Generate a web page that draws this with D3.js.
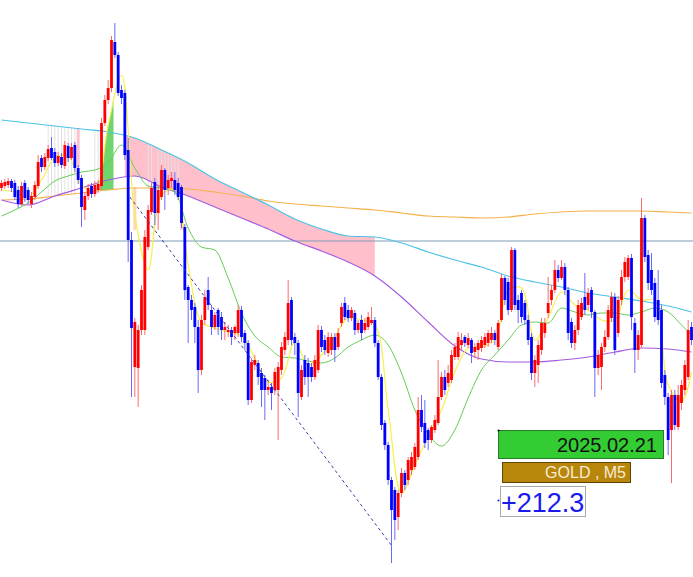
<!DOCTYPE html>
<html>
<head>
<meta charset="utf-8">
<title>GOLD M5</title>
<script src="https://cdn.jsdelivr.net/npm/d3@7"></script>
<style>
	body { margin: 0; background: #fff; font-family: "Liberation Sans", Arial, sans-serif; }
	svg { display: block; }
</style>
</head>
<body>
<div id="chart"></div>
<script>
// GOLD, M5 candles (price)
const open = [
	2941.2, 2941.4, 2941.5, 2941.9, 2941.7, 2941.0, 2939.6, 2941.7, 2941.0, 2939.6,
	2940.3, 2941.4, 2944.2, 2943.3, 2944.2, 2945.2, 2944.8, 2943.7, 2944.3, 2943.4,
	2945.4, 2944.2, 2945.5, 2943.2, 2942.2, 2939.0, 2940.4, 2941.4, 2940.6, 2941.0,
	2941.4, 2947.7, 2950.0, 2951.2, 2955.8, 2954.5, 2951.0, 2950.7, 2945.0, 2936.0,
	2923.3, 2923.2, 2927.0, 2927.0, 2935.3, 2938.8, 2941.8, 2938.7, 2940.3, 2943.0,
	2941.2, 2941.9, 2942.0, 2941.7, 2941.3, 2937.3, 2931.3, 2930.0, 2929.3, 2927.3,
	2923.0, 2928.0, 2931.0, 2929.0, 2927.3, 2929.0, 2928.3, 2927.0, 2926.8, 2927.0,
	2926.7, 2926.7, 2929.0, 2926.7, 2925.7, 2920.0, 2923.5, 2923.7, 2922.7, 2922.2,
	2921.0, 2921.3, 2921.0, 2921.0, 2923.0, 2925.0, 2926.0, 2930.0, 2926.3, 2925.7,
	2920.3, 2924.0, 2923.7, 2923.3, 2922.3, 2923.0, 2927.0, 2926.0, 2924.7, 2925.0,
	2926.3, 2925.3, 2927.7, 2929.7, 2929.0, 2928.2, 2928.7, 2927.0, 2928.0, 2927.0,
	2927.3, 2927.7, 2928.0, 2925.7, 2922.3, 2917.7, 2915.5, 2912.0, 2911.0, 2908.3,
	2910.7, 2912.7, 2912.0, 2913.0, 2913.3, 2914.3, 2919.0, 2917.7, 2917.0, 2916.0,
	2917.0, 2917.7, 2920.3, 2922.3, 2921.7, 2922.0, 2924.3, 2924.3, 2925.5, 2926.3,
	2925.5, 2926.0, 2924.8, 2925.0, 2925.2, 2925.5, 2925.7, 2926.0, 2926.7, 2925.3,
	2928.0, 2932.2, 2931.8, 2929.0, 2935.0, 2930.0, 2930.7, 2929.7, 2928.0, 2926.3,
	2922.7, 2923.5, 2925.0, 2926.7, 2928.7, 2930.0, 2931.0, 2933.0, 2932.2, 2933.3,
	2931.0, 2927.8, 2925.7, 2927.0, 2928.3, 2930.3, 2929.5, 2931.0, 2928.8, 2923.2,
	2923.3, 2925.3, 2926.3, 2928.2, 2930.3, 2926.7, 2930.0, 2932.3, 2932.3, 2934.2,
	2927.7, 2925.0, 2925.5, 2938.2, 2934.5, 2933.0, 2931.7, 2930.0, 2929.0, 2922.5,
	2920.3, 2917.0, 2920.5, 2917.3, 2919.7, 2921.0, 2922.3, 2927.3
];
const high = [
	2942.0, 2942.1, 2942.2, 2942.1, 2942.0, 2941.4, 2941.8, 2942.0, 2941.3, 2940.8,
	2941.9, 2944.5, 2944.5, 2944.7, 2945.5, 2946.3, 2945.2, 2944.8, 2944.7, 2945.9,
	2945.7, 2945.7, 2945.8, 2943.5, 2942.5, 2940.8, 2941.6, 2941.7, 2941.9, 2942.0,
	2948.2, 2950.5, 2952.0, 2956.4, 2957.7, 2954.8, 2951.5, 2951.0, 2946.2, 2936.8,
	2928.2, 2927.5, 2931.5, 2937.0, 2939.5, 2941.7, 2942.2, 2941.5, 2943.5, 2943.2,
	2942.5, 2942.8, 2942.8, 2942.2, 2941.5, 2937.6, 2931.5, 2930.5, 2929.7, 2928.0,
	2928.5, 2931.0, 2932.3, 2929.5, 2928.8, 2929.2, 2928.8, 2927.8, 2927.5, 2927.3,
	2927.5, 2929.5, 2929.4, 2927.0, 2926.0, 2924.2, 2924.5, 2924.0, 2923.2, 2922.5,
	2922.0, 2921.7, 2923.2, 2923.8, 2925.8, 2926.8, 2932.0, 2930.3, 2926.7, 2926.0,
	2923.5, 2924.5, 2924.2, 2923.7, 2924.5, 2927.5, 2927.4, 2926.5, 2926.8, 2926.7,
	2926.7, 2927.2, 2929.7, 2930.3, 2929.5, 2929.3, 2929.0, 2928.0, 2928.5, 2928.2,
	2928.8, 2929.3, 2928.3, 2926.0, 2922.6, 2918.0, 2915.8, 2912.3, 2911.3, 2911.0,
	2913.2, 2913.0, 2914.3, 2914.8, 2915.7, 2920.3, 2920.5, 2920.0, 2917.2, 2917.5,
	2918.5, 2924.0, 2922.8, 2923.0, 2923.5, 2925.0, 2925.7, 2926.8, 2926.7, 2926.5,
	2926.7, 2926.2, 2925.7, 2926.0, 2926.4, 2926.7, 2927.0, 2927.3, 2927.0, 2928.0,
	2932.6, 2932.4, 2932.2, 2935.3, 2935.2, 2930.5, 2931.0, 2930.0, 2928.5, 2926.7,
	2924.5, 2926.0, 2928.2, 2928.2, 2932.3, 2931.5, 2934.0, 2933.5, 2934.0, 2933.7,
	2931.3, 2928.2, 2927.5, 2930.0, 2930.2, 2932.7, 2931.2, 2931.3, 2929.0, 2925.0,
	2925.7, 2927.0, 2929.5, 2930.8, 2930.7, 2930.4, 2933.0, 2934.3, 2934.5, 2934.6,
	2928.2, 2927.0, 2940.2, 2938.5, 2935.0, 2934.7, 2932.2, 2933.0, 2929.5, 2923.0,
	2920.7, 2921.0, 2921.0, 2921.5, 2922.0, 2924.0, 2928.0, 2927.8
];
const low = [
	2940.9, 2941.1, 2941.2, 2940.8, 2940.0, 2939.2, 2939.4, 2939.8, 2939.6, 2939.2,
	2940.0, 2941.1, 2942.8, 2943.0, 2943.9, 2944.0, 2943.3, 2943.4, 2943.2, 2943.1,
	2943.8, 2944.0, 2942.8, 2941.6, 2937.3, 2938.0, 2940.0, 2940.2, 2940.3, 2940.7,
	2941.0, 2947.4, 2949.6, 2950.8, 2954.2, 2950.4, 2949.6, 2944.0, 2933.8, 2920.3,
	2920.3, 2919.3, 2926.5, 2926.5, 2935.0, 2938.5, 2937.5, 2937.0, 2940.0, 2939.0,
	2940.5, 2941.2, 2940.5, 2940.0, 2937.2, 2930.0, 2925.7, 2928.0, 2925.7, 2920.7,
	2922.5, 2927.5, 2929.0, 2926.5, 2927.0, 2926.5, 2926.0, 2926.0, 2926.3, 2925.5,
	2926.0, 2926.3, 2925.8, 2925.0, 2919.5, 2919.7, 2923.0, 2921.5, 2919.3, 2918.0,
	2920.5, 2919.0, 2920.5, 2916.0, 2922.5, 2924.5, 2925.5, 2925.5, 2924.5, 2918.3,
	2920.0, 2921.5, 2920.3, 2921.8, 2922.0, 2922.7, 2924.8, 2924.5, 2924.3, 2924.5,
	2923.8, 2925.0, 2927.3, 2928.0, 2927.8, 2927.9, 2926.5, 2926.7, 2926.0, 2926.7,
	2927.0, 2927.5, 2925.3, 2922.0, 2917.0, 2915.0, 2911.5, 2903.7, 2906.0, 2907.0,
	2910.3, 2911.0, 2911.5, 2912.5, 2913.0, 2914.0, 2916.8, 2915.2, 2915.0, 2915.7,
	2916.7, 2917.5, 2920.0, 2920.5, 2921.3, 2921.7, 2924.0, 2924.0, 2925.0, 2925.3,
	2925.2, 2923.7, 2924.2, 2924.0, 2924.8, 2925.2, 2925.3, 2925.7, 2925.5, 2925.0,
	2927.8, 2929.5, 2928.5, 2928.8, 2929.0, 2927.7, 2927.7, 2927.5, 2925.5, 2922.0,
	2921.3, 2921.7, 2924.5, 2926.2, 2928.2, 2929.5, 2930.7, 2931.8, 2932.0, 2930.5,
	2926.0, 2925.2, 2925.0, 2926.5, 2928.0, 2928.5, 2929.0, 2928.2, 2920.3, 2922.5,
	2921.0, 2924.8, 2926.0, 2927.8, 2924.5, 2926.3, 2929.5, 2931.8, 2932.0, 2927.0,
	2922.7, 2924.0, 2925.2, 2933.8, 2931.0, 2930.5, 2927.8, 2927.5, 2921.2, 2919.5,
	2914.5, 2911.7, 2917.0, 2917.0, 2919.0, 2920.5, 2922.0, 2925.5
];
const close = [
	2941.7, 2941.8, 2941.9, 2941.2, 2940.3, 2939.6, 2941.4, 2940.2, 2940.0, 2940.4,
	2941.5, 2943.8, 2943.3, 2944.3, 2945.1, 2944.2, 2943.7, 2944.4, 2943.5, 2945.5,
	2944.2, 2945.3, 2943.2, 2942.0, 2939.3, 2940.4, 2941.2, 2940.6, 2941.5, 2941.6,
	2947.7, 2950.0, 2951.2, 2956.0, 2954.5, 2950.7, 2950.2, 2944.5, 2936.0, 2927.2,
	2927.8, 2927.0, 2931.0, 2936.3, 2939.0, 2941.2, 2938.7, 2941.0, 2943.0, 2941.0,
	2942.0, 2942.2, 2941.0, 2940.3, 2937.7, 2931.0, 2930.0, 2929.0, 2927.3, 2923.0,
	2928.0, 2930.3, 2929.5, 2927.3, 2928.5, 2927.3, 2927.0, 2927.3, 2927.0, 2926.3,
	2927.3, 2929.0, 2926.3, 2925.7, 2920.0, 2923.8, 2924.0, 2922.3, 2921.0, 2921.0,
	2921.3, 2920.7, 2922.8, 2923.3, 2925.3, 2926.3, 2929.7, 2926.0, 2925.7, 2920.7,
	2923.0, 2922.3, 2922.3, 2922.3, 2924.0, 2927.0, 2925.3, 2925.0, 2926.3, 2926.3,
	2925.0, 2926.7, 2929.3, 2928.3, 2928.2, 2929.0, 2927.0, 2927.7, 2926.7, 2927.7,
	2928.3, 2928.0, 2925.7, 2922.3, 2917.5, 2915.5, 2912.0, 2909.0, 2908.0, 2910.7,
	2912.7, 2911.5, 2914.0, 2914.3, 2915.3, 2919.0, 2917.3, 2915.7, 2916.0, 2917.3,
	2918.0, 2920.3, 2922.3, 2921.0, 2922.7, 2924.5, 2925.3, 2926.3, 2926.0, 2925.7,
	2926.2, 2924.7, 2925.3, 2925.7, 2926.0, 2926.3, 2926.7, 2926.7, 2926.0, 2927.7,
	2932.2, 2930.0, 2929.0, 2935.0, 2929.5, 2929.0, 2928.3, 2928.0, 2926.0, 2922.7,
	2924.0, 2925.5, 2927.7, 2927.7, 2929.7, 2931.0, 2933.0, 2932.2, 2933.3, 2931.0,
	2926.7, 2925.7, 2927.0, 2929.5, 2929.7, 2929.0, 2930.7, 2928.8, 2923.2, 2924.5,
	2925.3, 2926.3, 2929.0, 2930.3, 2925.0, 2930.0, 2932.3, 2933.8, 2934.2, 2928.3,
	2925.0, 2926.5, 2938.2, 2934.3, 2931.7, 2931.0, 2928.3, 2928.0, 2921.7, 2920.3,
	2916.0, 2920.5, 2917.5, 2920.5, 2921.5, 2923.5, 2927.0, 2926.0
];

// slow moving averages, read every 8 bars
const slowIdx = [0, 8, 16, 24, 32, 40, 48, 56, 64, 72, 80, 88, 96, 104, 112, 120, 128, 136, 144, 152, 160, 168, 176, 184, 192, 200, 207];
const cyanMA = [2948.0, 2947.7, 2947.4, 2947.1, 2946.8, 2946.2, 2945.0, 2943.7, 2942.1, 2940.8, 2939.5, 2938.1, 2937.1, 2936.4, 2936.3, 2935.7, 2934.8, 2934.0, 2933.3, 2932.4, 2931.8, 2931.3, 2930.7, 2930.3, 2929.9, 2929.4, 2928.8];
const orangeMA = [2940.0, 2940.1, 2940.4, 2940.7, 2941.0, 2941.2, 2941.2, 2941.1, 2940.8, 2940.4, 2939.9, 2939.6, 2939.4, 2939.2, 2939.0, 2938.7, 2938.4, 2938.3, 2938.2, 2938.3, 2938.6, 2938.8, 2938.9, 2938.9, 2938.9, 2938.8, 2938.7];
const purpleMA = [2940.0, 2939.5, 2940.4, 2941.2, 2942.0, 2942.4, 2941.3, 2940.4, 2939.3, 2938.2, 2937.1, 2935.9, 2934.9, 2933.8, 2932.4, 2930.3, 2927.8, 2925.4, 2924.1, 2923.8, 2923.8, 2924.0, 2924.3, 2924.8, 2925.2, 2925.1, 2924.8];

// fast moving averages, read every 4 bars
const fastIdx = d3.range(0, 205, 4).concat([207]);
const greenMA = [
	2938.4, 2939.0, 2939.7, 2940.8, 2941.9, 2942.4, 2942.8, 2943.0, 2943.7, 2945.5,
	2943.2, 2941.4, 2941.2, 2940.8, 2937.2, 2935.3, 2935.0, 2932.2, 2928.7, 2926.4,
	2925.3, 2924.3, 2924.2, 2923.9, 2923.7, 2924.2, 2925.3, 2926.0, 2926.5, 2925.5,
	2922.7, 2919.0, 2916.6, 2915.4, 2917.0, 2920.2, 2923.0, 2924.5, 2926.0, 2927.5,
	2927.8, 2927.7, 2929.2, 2928.8, 2928.5, 2928.7, 2928.7, 2928.5, 2928.8, 2929.2,
	2928.8, 2927.5, 2926.5
];
const yellowMA = [
	2941.0, 2940.8, 2940.3, 2942.0, 2944.2, 2944.4, 2941.5, 2940.9, 2947.5, 2952.5,
	2938.5, 2933.0, 2940.5, 2941.0, 2933.5, 2927.8, 2927.2, 2926.8, 2926.4, 2924.2,
	2921.8, 2922.2, 2925.8, 2923.5, 2924.5, 2926.3, 2928.2, 2928.0, 2927.5, 2919.0,
	2910.7, 2913.5, 2916.4, 2919.0, 2922.8, 2925.2, 2925.3, 2926.0, 2931.0, 2931.2,
	2926.0, 2928.2, 2930.8, 2929.5, 2929.0, 2928.0, 2928.0, 2931.0, 2930.0, 2930.0,
	2921.5, 2919.8, 2922.8
];

// histogram bars (bar index), pale bars [index, top, bottom]
const grayBars = [14, 15, 16, 17, 18, 19, 20, 21, 22, 28, 29, 44, 45, 47, 48, 49, 50, 51, 52, 53];
const pinkBars = [[23, 2947.2, 2943.3]];
const peachBars = [[40, 2941.3, 2937.0], [54, 2941.0, 2937.0]];

const levelPrice = 2935.9;
const trendLine = [[38.5, 2940.3], [116.9, 2905.5]];
const dateLabel = "2025.02.21";
const symbolLabel = "GOLD , M5";
const pointsLabel = "+212.3";

const width = 693, height = 577;
const n = close.length;

const x = d3.scaleLinear().domain([0, n - 1]).range([1.5, 691.5]);
const y = d3.scaleLinear().domain([2960, 2902.3]).range([0, height]);

const cyanAt = d3.scaleLinear().domain(slowIdx).range(cyanMA);
const orangeAt = d3.scaleLinear().domain(slowIdx).range(orangeMA);

const svg = d3.select('#chart').append('svg')
	.attr('width', width)
	.attr('height', height)
	.attr('viewBox', [0, 0, width, height]);

const defs = svg.append('defs');
defs.append('clipPath').attr('id', 'pinkClip').append('rect')
	.attr('x', x(37)).attr('y', 0).attr('width', x(112) - x(37)).attr('height', height);
defs.append('clipPath').attr('id', 'greenClip').append('rect')
	.attr('x', x(29.5)).attr('y', 0).attr('width', x(33.6) - x(29.5)).attr('height', height);

const slowPts = slowIdx.map((d, k) => ({ i: d, c: cyanMA[k], o: orangeMA[k], p: purpleMA[k] }));
const fastPts = fastIdx.map((d, k) => ({ i: d, g: greenMA[k], yl: yellowMA[k] }));

// pink band between cyan and purple
svg.append('path')
	.datum(slowPts)
	.attr('clip-path', 'url(#pinkClip)')
	.attr('fill', '#ffc0cb')
	.attr('d', d3.area().curve(d3.curveMonotoneX)
		.x(d => x(d.i)).y0(d => y(d.p)).y1(d => y(d.c)));

// green band between yellow and orange
svg.append('path')
	.datum(fastPts)
	.attr('clip-path', 'url(#greenClip)')
	.attr('fill', '#6fd66f')
	.attr('d', d3.area().curve(d3.curveCatmullRom)
		.x(d => x(d.i)).y0(d => y(orangeAt(d.i))).y1(d => y(d.yl)));

// histogram lines
svg.append('g')
	.attr('stroke', '#e2e2e2')
	.attr('stroke-width', 1)
	.selectAll('line')
	.data(grayBars)
	.join('line')
	.attr('x1', i => x(i)).attr('x2', i => x(i))
	.attr('y1', i => y(cyanAt(i))).attr('y2', i => y(orangeAt(i)));

svg.append('g')
	.attr('fill', '#ffc0cb')
	.selectAll('rect')
	.data(pinkBars)
	.join('rect')
	.attr('x', d => x(d[0]) - 1.5).attr('width', 3)
	.attr('y', d => y(d[1])).attr('height', d => y(d[2]) - y(d[1]));

svg.append('g')
	.attr('fill', '#ffd6b8')
	.selectAll('rect')
	.data(peachBars)
	.join('rect')
	.attr('x', d => x(d[0]) - 1.5).attr('width', 3)
	.attr('y', d => y(d[1])).attr('height', d => y(d[2]) - y(d[1]));

// horizontal level
svg.append('line')
	.attr('x1', 0).attr('x2', width)
	.attr('y1', y(levelPrice)).attr('y2', y(levelPrice))
	.attr('stroke', '#7f9cb8')
	.attr('stroke-width', 1);

// moving averages
const slowLine = key => d3.line().curve(d3.curveMonotoneX).x(d => x(d.i)).y(d => y(d[key]));
svg.append('path').datum(slowPts).attr('fill', 'none').attr('stroke', '#f4b04a').attr('stroke-width', 1.2).attr('d', slowLine('o'));
svg.append('path').datum(slowPts).attr('fill', 'none').attr('stroke', '#4cc3e6').attr('stroke-width', 1.2).attr('d', slowLine('c'));
svg.append('path').datum(slowPts).attr('fill', 'none').attr('stroke', '#a55be0').attr('stroke-width', 1.2).attr('d', slowLine('p'));
svg.append('path').datum(fastPts).attr('fill', 'none').attr('stroke', '#66cc55').attr('stroke-width', 1)
	.attr('d', d3.line().curve(d3.curveMonotoneX).x(d => x(d.i)).y(d => y(d.g)));
svg.append('path').datum(fastPts).attr('fill', 'none').attr('stroke', '#f7f04a').attr('stroke-width', 1.2)
	.attr('d', d3.line().curve(d3.curveCatmullRom).x(d => x(d.i)).y(d => y(d.yl)));

// candles
const bars = d3.range(n);
const up = i => close[i] >= open[i];

svg.append('g')
	.selectAll('line')
	.data(bars)
	.join('line')
	.attr('x1', i => x(i)).attr('x2', i => x(i))
	.attr('y1', i => y(high[i])).attr('y2', i => y(low[i]))
	.attr('stroke', i => up(i) ? '#ff6a6a' : '#6a6aff')
	.attr('stroke-width', 1);

svg.append('g')
	.selectAll('rect')
	.data(bars)
	.join('rect')
	.attr('x', i => x(i) - 1.4)
	.attr('width', 2.8)
	.attr('y', i => y(Math.max(open[i], close[i])))
	.attr('height', i => Math.max(1, Math.abs(y(open[i]) - y(close[i]))))
	.attr('fill', i => up(i) ? '#ff0000' : '#0000ff');

// dashed trend line
svg.append('line')
	.attr('x1', x(trendLine[0][0])).attr('y1', y(trendLine[0][1]))
	.attr('x2', x(trendLine[1][0])).attr('y2', y(trendLine[1][1]))
	.attr('stroke', '#3a3aa8')
	.attr('stroke-width', 1)
	.attr('stroke-dasharray', '3,3');

// labels
const lab = svg.append('g');
lab.append('rect').attr('x', 498.5).attr('y', 430.5).attr('width', 165).attr('height', 28)
	.attr('fill', '#33cc33').attr('stroke', '#2a7a2a');
lab.append('text').attr('x', 657).attr('y', 452).attr('text-anchor', 'end')
	.attr('font-size', 20).attr('fill', '#111').text(dateLabel);

lab.append('rect').attr('x', 502.5).attr('y', 462.5).attr('width', 128).attr('height', 20)
	.attr('fill', '#b8860b').attr('stroke', '#5c4408');
lab.append('text').attr('x', 626).attr('y', 478).attr('text-anchor', 'end')
	.attr('font-size', 16).attr('fill', '#f8ecd2').text(symbolLabel);

lab.append('rect').attr('x', 500.5).attr('y', 486.5).attr('width', 85).attr('height', 30)
	.attr('fill', '#fff').attr('stroke', '#aaa');
lab.append('text').attr('x', 501).attr('y', 512).attr('text-anchor', 'start')
	.attr('font-size', 27).attr('fill', '#1a1aee').text(pointsLabel);

lab.append('circle').attr('cx', 498.5).attr('cy', 430.5).attr('r', 1).attr('fill', '#000');
lab.append('circle').attr('cx', 498.5).attr('cy', 500.5).attr('r', 1).attr('fill', '#1a1aee');
</script>
</body>
</html>
